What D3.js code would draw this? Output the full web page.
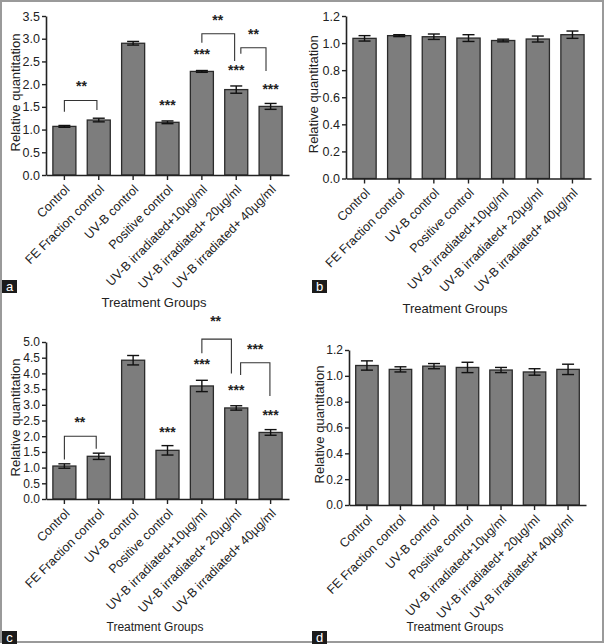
<!DOCTYPE html>
<html>
<head>
<meta charset="utf-8">
<script src="https://cdn.jsdelivr.net/npm/d3@7"></script>
<style>
  body { margin: 0; background: #fff; }
  svg { display: block; font-family: "Liberation Sans", Arial, sans-serif; }
</style>
</head>
<body>
<div id="chart"></div>
<script>
// Groups shared by all four panels
const groups = [
  "Control",
  "FE Fraction control",
  "UV-B control",
  "Positive control",
  "UV-B irradiated+10µg/ml",
  "UV-B irradiated+ 20µg/ml",
  "UV-B irradiated+ 40µg/ml"
];

// Panel a
const valuesA = [1.07, 1.21, 2.90, 1.16, 2.28, 1.88, 1.51];
const errorsA = [0.02, 0.04, 0.04, 0.03, 0.02, 0.08, 0.065];
const ticksA = [0, 0.5, 1.0, 1.5, 2.0, 2.5, 3.0, 3.5];
// [from bar, leg pos, to bar, leg pos, top, left end, right end]
const bracketsA = [
  [0, 0.5, 1, 0.42, 1.64, 1.39, 1.43],
  [4, 0.5, 5, 0.43, 3.11, 2.91, 2.51],
  [5, 0.7, 6, 0.3, 2.80, 2.67, 2.29]
];
// [bar position, value, text]
const starsA = [
  [0.5, 2.03, "**"],
  [3, 1.61, "***"],
  [4, 2.73, "***"],
  [4.46, 3.48, "**"],
  [5, 2.38, "***"],
  [5.5, 3.17, "**"],
  [6, 1.96, "***"]
];

// Panel b
const valuesB = [1.035, 1.055, 1.047, 1.037, 1.019, 1.03, 1.062];
const errorsB = [0.02, 0.007, 0.02, 0.025, 0.01, 0.022, 0.027];
const ticksB = [0, 0.2, 0.4, 0.6, 0.8, 1.0, 1.2];

// Panel c
const valuesC = [1.05, 1.36, 4.42, 1.55, 3.60, 2.90, 2.12];
const errorsC = [0.07, 0.10, 0.15, 0.15, 0.18, 0.07, 0.09];
const ticksC = [0, 0.5, 1.0, 1.5, 2.0, 2.5, 3.0, 3.5, 4.0, 4.5, 5.0];
const bracketsC = [
  [0, 0.5, 1, 0.39, 2.0, 1.26, 1.6],
  [4, 0.5, 5, 0.29, 5.09, 4.64, 4.0],
  [5, 0.69, 6, 0.47, 4.34, 3.95, 3.28]
];
const starsC = [
  [0.45, 2.55, "**"],
  [3, 2.25, "***"],
  [4, 4.4, "***"],
  [4.4, 5.78, "**"],
  [5, 3.58, "***"],
  [5.55, 4.9, "***"],
  [6, 2.78, "***"]
];

// Panel d
const valuesD = [1.08, 1.05, 1.075, 1.065, 1.045, 1.03, 1.05];
const errorsD = [0.036, 0.02, 0.02, 0.04, 0.02, 0.025, 0.04];
const ticksD = [0, 0.2, 0.4, 0.6, 0.8, 1.0, 1.2];

const W = 605, H = 644;
const ink = "#222";

const svg = d3.select("#chart").append("svg")
  .attr("width", W)
  .attr("height", H);

// outer frame
svg.append("rect")
  .attr("x", 1).attr("y", 1)
  .attr("width", W - 3).attr("height", H - 3)
  .attr("fill", "none")
  .attr("stroke", "#9a9a9a")
  .attr("stroke-width", 2);

function drawPanel(p) {
  const g = svg.append("g");

  const x = d3.scaleBand()
    .domain(groups)
    .range([p.left, p.right])
    .paddingInner(0.33)
    .paddingOuter(0.2);

  const y = d3.scaleLinear()
    .domain([0, d3.max(p.ticks)])
    .range([p.bottom, p.top]);

  const rows = groups.map((name, i) => ({ name, v: p.values[i], e: p.errors[i] }));

  // bars
  g.append("g")
    .selectAll("rect")
    .data(rows)
    .enter()
    .append("rect")
    .attr("x", (d) => x(d.name))
    .attr("y", (d) => y(d.v))
    .attr("width", x.bandwidth())
    .attr("height", (d) => y(0) - y(d.v))
    .attr("fill", "#7d7d7d")
    .attr("stroke", "#2b2b2b")
    .attr("stroke-width", 1.3);

  // error bars
  const eb = g.append("g").attr("stroke", "#111").attr("stroke-width", 1.4);
  rows.forEach((d) => {
    const cx = x(d.name) + x.bandwidth() / 2;
    eb.append("line").attr("x1", cx).attr("x2", cx)
      .attr("y1", y(d.v - d.e)).attr("y2", y(d.v + d.e));
    [d.v - d.e, d.v + d.e].forEach((v) => {
      eb.append("line").attr("x1", cx - 6).attr("x2", cx + 6)
        .attr("y1", y(v)).attr("y2", y(v));
    });
  });

  // Y axis
  const yAxis = g.append("g")
    .attr("transform", `translate(${p.left},0)`)
    .call(d3.axisLeft(y).tickValues(p.ticks).tickFormat(d3.format(".1f")).tickSize(4).tickSizeOuter(0).tickPadding(2));
  yAxis.select(".domain").attr("stroke", ink).attr("stroke-width", 1.6);
  yAxis.selectAll(".tick line").attr("stroke", ink).attr("stroke-width", 1.4);
  yAxis.selectAll(".tick text").attr("fill", ink).style("font-size", p.tickFont + "px");
  yAxis.attr("font-family", null);

  // X axis
  const xAxis = g.append("g")
    .attr("transform", `translate(0,${p.bottom})`)
    .call(d3.axisBottom(x).tickSize(5).tickSizeOuter(0).tickFormat(""));
  xAxis.select(".domain").attr("stroke", ink).attr("stroke-width", 1.6);
  xAxis.selectAll(".tick line").attr("stroke", ink).attr("stroke-width", 1.4);

  // rotated category labels
  g.append("g")
    .selectAll("text")
    .data(groups)
    .enter()
    .append("text")
    .attr("transform", (d) => `translate(${x(d) + x.bandwidth() / 2 + 3},${p.bottom + 12}) rotate(-45)`)
    .attr("text-anchor", "end")
    .attr("dy", "0.35em")
    .attr("fill", ink)
    .style("font-size", p.catFont + "px")
    .text((d) => d);

  // axis titles
  g.append("text")
    .attr("transform", `translate(${p.yTitleX},${(p.top + p.bottom) / 2 - 3}) rotate(-90)`)
    .attr("text-anchor", "middle")
    .attr("dy", "0.35em")
    .attr("fill", ink)
    .style("font-size", "13px")
    .text("Relative quantitation");

  g.append("text")
    .attr("x", p.xTitle[0])
    .attr("y", p.xTitle[1])
    .attr("text-anchor", "middle")
    .attr("dy", "0.35em")
    .attr("fill", ink)
    .style("font-size", p.xTitleFont + "px")
    .text("Treatment Groups");

  // significance brackets
  const centerAt = (pos) => {
    const i = Math.floor(pos);
    const f = pos - i;
    return x(groups[i]) + x.bandwidth() / 2 + f * x.step();
  };
  (p.brackets || []).forEach((b) => {
    const x1 = x(groups[b[0]]) + b[1] * x.bandwidth();
    const x2 = x(groups[b[2]]) + b[3] * x.bandwidth();
    g.append("path")
      .attr("d", `M${x1},${y(b[5])}V${y(b[4])}H${x2}V${y(b[6])}`)
      .attr("fill", "none")
      .attr("stroke", "#333")
      .attr("stroke-width", 1.1);
  });
  (p.stars || []).forEach((s) => {
    g.append("text")
      .attr("x", centerAt(s[0]))
      .attr("y", y(s[1]))
      .attr("dy", "0.6em")
      .attr("text-anchor", "middle")
      .attr("fill", ink)
      .style("font-size", "14px")
      .style("font-weight", "bold")
      .text(s[2]);
  });

  // panel letter
  g.append("rect")
    .attr("x", p.letterBox[0]).attr("y", p.letterBox[1])
    .attr("width", 15).attr("height", 13)
    .attr("fill", "#1b1b1b");
  g.append("text")
    .attr("x", p.letterBox[0] + 7.5)
    .attr("y", p.letterBox[1] + 10.5)
    .attr("text-anchor", "middle")
    .attr("fill", "#fff")
    .style("font-size", "13px")
    .text(p.letter);
}

drawPanel({
  values: valuesA, errors: errorsA, ticks: ticksA,
  brackets: bracketsA, stars: starsA,
  left: 46, right: 289, top: 16, bottom: 175,
  tickFont: 12.5, catFont: 12.5, xTitleFont: 13,
  yTitleX: 15, xTitle: [154, 302],
  letter: "a", letterBox: [2, 280]
});

drawPanel({
  values: valuesB, errors: errorsB, ticks: ticksB,
  left: 346, right: 591, top: 16, bottom: 178.5,
  tickFont: 12.5, catFont: 12.5, xTitleFont: 13,
  yTitleX: 313, xTitle: [455, 308],
  letter: "b", letterBox: [312, 280]
});

drawPanel({
  values: valuesC, errors: errorsC, ticks: ticksC,
  brackets: bracketsC, stars: starsC,
  left: 46, right: 289, top: 342, bottom: 499,
  tickFont: 12, catFont: 12.5, xTitleFont: 12,
  yTitleX: 15, xTitle: [155, 627],
  letter: "c", letterBox: [2, 631]
});

drawPanel({
  values: valuesD, errors: errorsD, ticks: ticksD,
  left: 349, right: 586, top: 350, bottom: 505,
  tickFont: 12, catFont: 12.5, xTitleFont: 12,
  yTitleX: 319, xTitle: [455, 627],
  letter: "d", letterBox: [312, 631]
});
</script>
</body>
</html>
